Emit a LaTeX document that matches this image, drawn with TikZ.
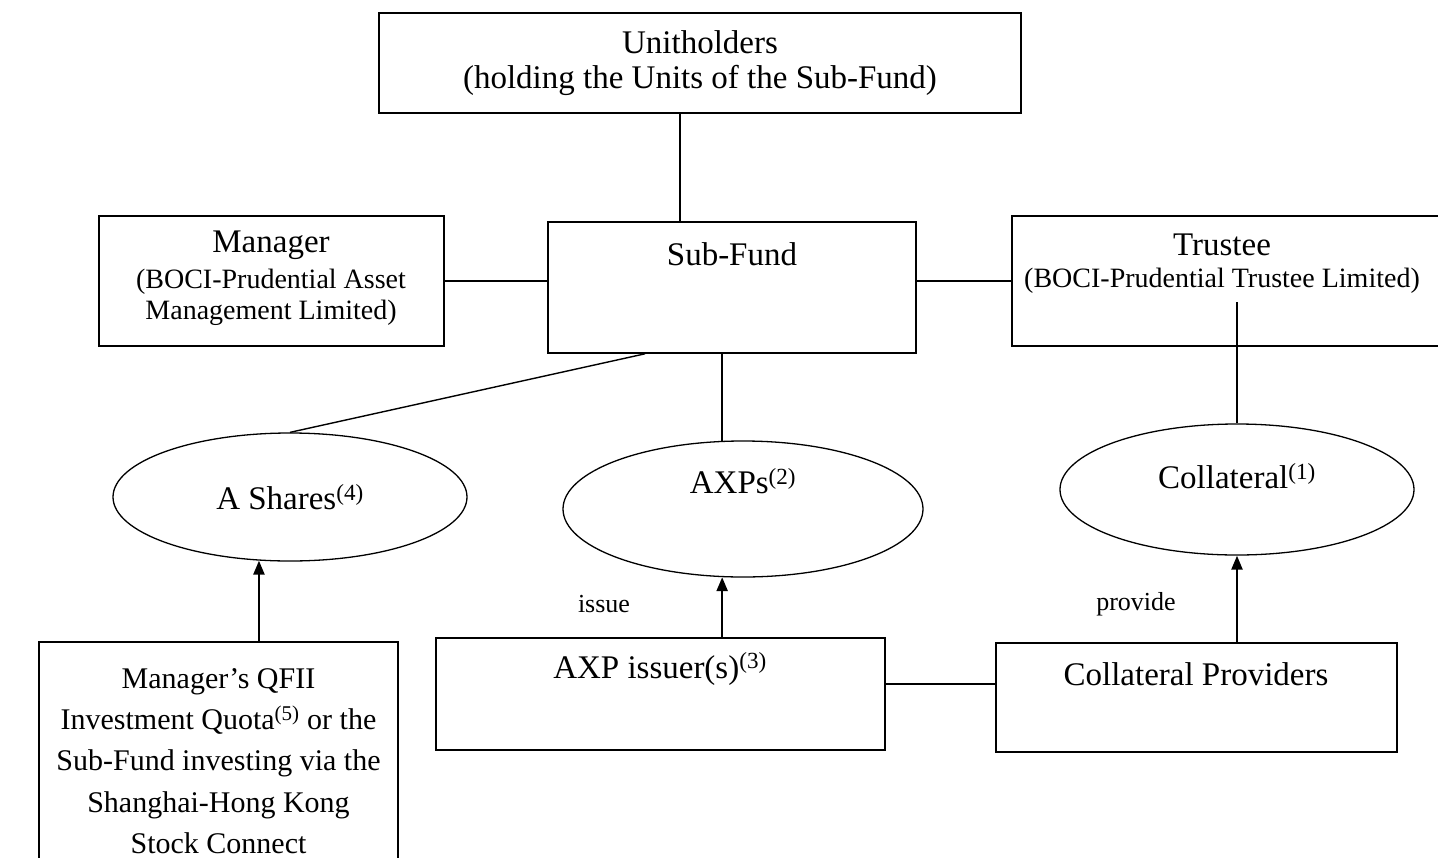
\documentclass[tikz,border=0pt]{standalone}
\usepackage{fontspec}
\setmainfont{Liberation Serif}
\usetikzlibrary{arrows.meta,shapes.geometric}
\tikzset{
  box/.style={draw, line width=1.6pt, rectangle, inner sep=0pt},
  oval/.style={draw, line width=1.3pt, ellipse, inner sep=0pt},
  conn/.style={line width=1.4pt},
  arr/.style={line width=2.4pt, -{Triangle[length=14pt,width=11pt]}},
  big/.style={font=\fontsize{33}{41}\selectfont, align=center, inner sep=0pt},
  small/.style={font=\fontsize{28}{31}\selectfont, align=center, inner sep=0pt},
  lbl/.style={font=\fontsize{26}{30}\selectfont, inner sep=0pt},
}
\begin{document}
\begin{tikzpicture}[x=1pt,y=-1pt]
\useasboundingbox (0,0) rectangle (1438,857);
% boxes
\node[box, minimum width=642pt, minimum height=100pt] (unit) at (700,63) {};
\node[box, minimum width=345pt, minimum height=130pt] (mgr) at (271.5,281) {};
\node[box, minimum width=368pt, minimum height=131pt] (sub) at (732,287.5) {};
\node[box, minimum width=433pt, minimum height=130pt] (trus) at (1228.5,281) {};
\node[box, minimum width=359pt, minimum height=238pt] (qfii) at (218.5,761) {};
\node[box, minimum width=449pt, minimum height=112pt] (axpi) at (660.5,694) {};
\node[box, minimum width=401pt, minimum height=109pt] (colp) at (1196.5,697.5) {};
% ellipses
\node[oval, minimum width=354pt, minimum height=128pt] (ash) at (290,497) {};
\node[oval, minimum width=360pt, minimum height=136pt] (axps) at (743,509) {};
\node[oval, minimum width=354pt, minimum height=131pt] (coll) at (1237,489.5) {};
% texts
\node[big] (unitt1) at (700,42) {Unitholders};
\node[big] (unitt2) at (700,80) {(holding the Units of the Sub-Fund)};
\node[big] (mgrt1) at (271,245) {Manager};
\node[small] (mgrt2) at (271,297) {(BOCI-Prudential Asset\\Management Limited)};
\node[big] (subt) at (732,254) {Sub-Fund};
\node[big] (trust1) at (1222,245) {Trustee};
\node[small] (trust2) at (1222,281) {(BOCI-Prudential Trustee Limited)};
\node[big] (asht) at (290,497) {A Shares\textsuperscript{(4)}};
\node[big] (axpst) at (743,481) {AXPs\textsuperscript{(2)}};
\node[big] (collt) at (1237,476) {Collateral\textsuperscript{(1)}};
\node[lbl] (issue) at (604,604) {issue};
\node[lbl] (provide) at (1136,604) {provide};
\node[big] (axpit) at (660,669) {AXP issuer(s)\textsuperscript{(3)}};
\node[big] (colpt) at (1196,674) {Collateral Providers};
\node[big, font=\fontsize{30}{41.2}\selectfont] (qfiit) at (218.5,761) {Manager’s QFII\\Investment Quota\textsuperscript{(5)} or the\\Sub-Fund investing via the\\Shanghai-Hong Kong\\Stock Connect};
\coordinate (tc) at (1237,302);
% connectors
\draw[conn] ([xshift=-20pt]unit.south) -- ([xshift=-20pt]unit.south |- sub.north);
\draw[conn] (mgr.east) -- (mgr.east -| sub.west);
\draw[conn] (sub.east |- trus.west) -- (trus.west);
\draw[conn] (tc) -- (coll.north);
\draw[conn] ([xshift=-87pt]sub.south) -- (ash.north);
\draw[conn] (axps.107) -- (axps.107 |- sub.south);
\draw[conn] ([yshift=10pt]axpi.east) -- ([yshift=10pt]axpi.east -| colp.west);
\draw[arr] (ash.244.5 |- qfii.north) -- (ash.244.5);
\draw[arr] (axps.253 |- axpi.north) -- (axps.253);
\draw[arr] (coll.south |- colp.north) -- (coll.south);
\end{tikzpicture}
\end{document}
